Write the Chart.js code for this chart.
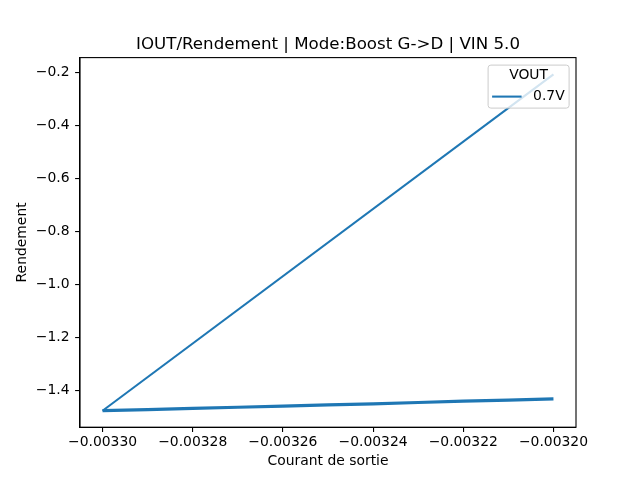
<!DOCTYPE html>
<html>
<head>
<meta charset="utf-8">
<script src="https://cdn.jsdelivr.net/npm/chart.js@4"></script>
<style>
html,body{margin:0;padding:0;background:#fff;}
#wrap{width:640px;height:480px;position:relative;}
</style>
</head>
<body>
<div id="wrap"><canvas id="c" width="640" height="480"></canvas></div>
<script>
// ---- data ----
const chartTitle = "IOUT/Rendement | Mode:Boost G->D | VIN 5.0";
const seriesLabel = "0.7V";
const legendTitle = "VOUT";
const courant = [-0.00320, -0.00330, -0.00329, -0.00328, -0.00327, -0.00326, -0.00325, -0.00324, -0.00323, -0.00322, -0.00321, -0.00320];
const rendement = [-0.208, -1.477, -1.473, -1.468, -1.464, -1.460, -1.455, -1.451, -1.446, -1.441, -1.437, -1.432];
const xTicks = [-0.00330, -0.00328, -0.00326, -0.00324, -0.00322, -0.00320];
const yTicks = [-1.4, -1.2, -1.0, -0.8, -0.6, -0.4, -0.2];

const FONT = "'DejaVu Sans', sans-serif";
const BLUE = "#1f77b4";
const minus = s => s.replace('-', '\u2212');

const points = courant.map((x, i) => ({x: x, y: rendement[i]}));

const framePlugin = {
  id: 'frame',
  afterDraw(chart) {
    const {ctx, chartArea: a} = chart;
    ctx.save();
    ctx.strokeStyle = '#000';
    ctx.lineWidth = 1.1;
    ctx.strokeRect(a.left, a.top, a.right - a.left, a.bottom - a.top);
    // title centred over the axes
    ctx.fillStyle = '#000';
    ctx.font = '16.67px ' + FONT;
    ctx.textAlign = 'center';
    ctx.textBaseline = 'alphabetic';
    ctx.fillText(chartTitle, (a.left + a.right) / 2, a.top - 8.3);
    // legend box (matplotlib style, upper right)
    const fs = 13.9;
    const w = 81, h = 43;
    const bx = a.right - 6.9 - w, by = a.top + 7.5;
    ctx.beginPath();
    if (ctx.roundRect) ctx.roundRect(bx, by, w, h, 2.8); else ctx.rect(bx, by, w, h);
    ctx.fillStyle = 'rgba(255,255,255,0.8)';
    ctx.fill();
    ctx.strokeStyle = '#cccccc';
    ctx.lineWidth = 1;
    ctx.stroke();
    ctx.fillStyle = '#000';
    ctx.font = fs + 'px ' + FONT;
    ctx.textBaseline = 'middle';
    ctx.textAlign = 'center';
    ctx.fillText(legendTitle, bx + w / 2, by + 10.5);
    ctx.beginPath();
    ctx.moveTo(bx + 4, by + 31.5);
    ctx.lineTo(bx + 33.5, by + 31.5);
    ctx.strokeStyle = BLUE;
    ctx.lineWidth = 2.08;
    ctx.stroke();
    ctx.textAlign = 'left';
    ctx.fillStyle = '#000';
    ctx.fillText(seriesLabel, bx + 45, by + 31.5);
    ctx.restore();
  }
};

new Chart(document.getElementById('c'), {
  type: 'scatter',
  data: {
    datasets: [{
      label: seriesLabel,
      data: points,
      showLine: true,
      borderColor: BLUE,
      backgroundColor: BLUE,
      borderWidth: 2.08,
      pointRadius: 0,
      pointHoverRadius: 0,
      tension: 0,
      borderJoinStyle: 'round',
      segment: {
        borderWidth: ctx => ctx.p0DataIndex >= 1 ? 3.2 : 2.08
      }
    }]
  },
  options: {
    responsive: false,
    animation: false,
    devicePixelRatio: 1,
    events: [],
    layout: {padding: {left: 0, right: 64, top: 57.6, bottom: 0}},
    plugins: {
      legend: {display: false},
      tooltip: {enabled: false},
      title: {display: false}
    },
    scales: {
      x: {
        type: 'linear',
        position: 'bottom',
        min: -0.003305,
        max: -0.003195,
        afterFit: s => { s.height = 52.8; },
        afterBuildTicks: s => { s.ticks = xTicks.map(v => ({value: v})); },
        ticks: {
          color: '#000',
          font: {family: FONT, size: 13.9},
          padding: 2,
          maxRotation: 0,
          autoSkip: false,
          callback: v => minus(Number(v).toFixed(5))
        },
        grid: {display: true, drawOnChartArea: false, drawTicks: true, tickLength: 4.9, color: '#000', lineWidth: 1.1},
        border: {display: true, color: '#000', width: 1.1},
        title: {
          display: true,
          text: 'Courant de sortie',
          color: '#000',
          font: {family: FONT, size: 13.9, lineHeight: 1.2},
          padding: {top: 0, bottom: 10.7}
        }
      },
      y: {
        type: 'linear',
        position: 'left',
        min: -1.5392,
        max: -0.1445,
        afterFit: s => { s.width = 80; },
        afterBuildTicks: s => { s.ticks = yTicks.map(v => ({value: v})); },
        ticks: {
          color: '#000',
          font: {family: FONT, size: 13.9},
          padding: 5.5,
          autoSkip: false,
          callback: v => minus(Number(v).toFixed(1))
        },
        grid: {display: true, drawOnChartArea: false, drawTicks: true, tickLength: 4.9, color: '#000', lineWidth: 1.1},
        border: {display: true, color: '#000', width: 1.1},
        title: {
          display: true,
          text: 'Rendement',
          color: '#000',
          font: {family: FONT, size: 13.9, lineHeight: 1.2},
          padding: {top: 13.7, bottom: 0}
        }
      }
    }
  },
  plugins: [framePlugin]
});
</script>
</body>
</html>
